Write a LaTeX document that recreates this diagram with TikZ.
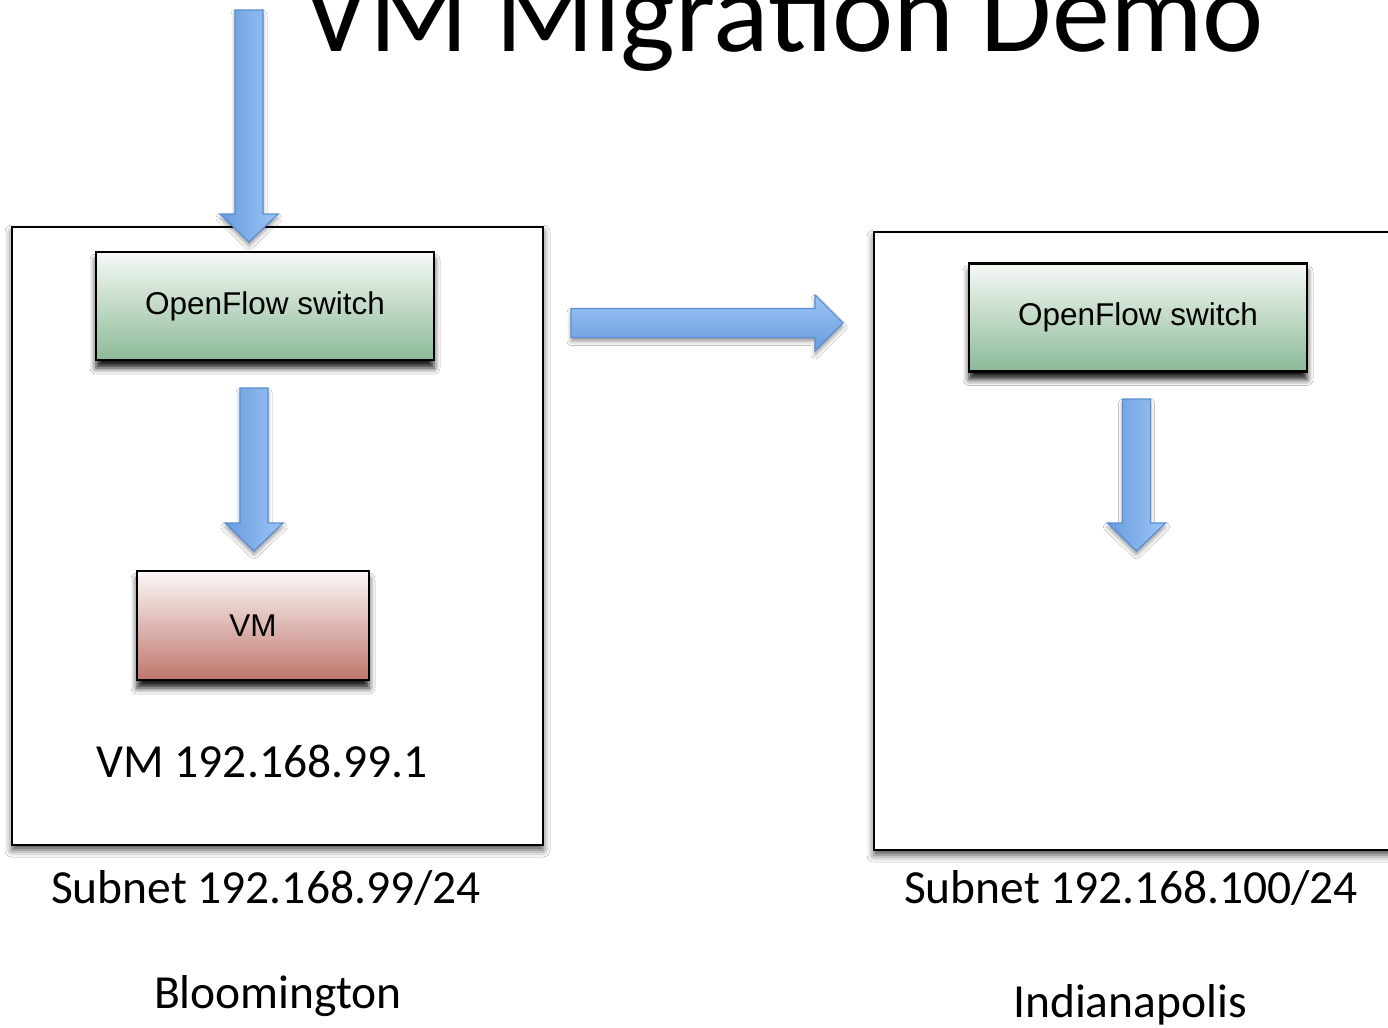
\documentclass[tikz,border=0pt]{standalone}
\usepackage{fontspec}
\setmainfont{Carlito}
\newfontfamily\helv{Liberation Sans}
\usetikzlibrary{shadows.blur}
\definecolor{gtop}{HTML}{F6F9F6}
\definecolor{gbot}{HTML}{8CBA97}
\definecolor{rtop}{HTML}{FCF8F8}
\definecolor{rbot}{HTML}{BF766C}
\definecolor{aleft}{HTML}{679CDE}
\definecolor{aright}{HTML}{9DC5F4}
\definecolor{aedge}{HTML}{5B8DD2}
\newcommand\vdarrow[3]{% center x, top y, tip y
  \path[blockarrow, left color=aleft, right color=aright]
    (#1-14,#2) -- (#1+14,#2) -- (#1+14,#3-28) -- (#1+29,#3-28) -- (#1,#3)
    -- (#1-29,#3-28) -- (#1-14,#3-28) -- cycle;}
\begin{document}
\begin{tikzpicture}[x=1pt,y=-1pt,
  bigbox/.style={draw=black, line width=2pt, fill=white, inner sep=0pt,
    blur shadow={shadow xshift=0pt, shadow yshift=-5pt, shadow blur radius=7pt, shadow opacity=70}},
  swbox/.style={draw=black, line width=2.4pt, top color=gtop, bottom color=gbot,
    minimum width=338pt, minimum height=108pt, inner sep=0pt,
    font=\helv\fontsize{31.5}{36}\selectfont,
    blur shadow={shadow xshift=0pt, shadow yshift=-8pt, shadow blur radius=6pt, shadow opacity=90}},
  vmbox/.style={swbox, top color=rtop, bottom color=rbot, minimum width=232pt, minimum height=109pt},
  lbl/.style={anchor=base, font=\fontsize{47.5}{52}\selectfont},
  blockarrow/.style={draw=aedge, line width=1.2pt, line join=miter,
    blur shadow={shadow xshift=0pt, shadow yshift=-4pt, shadow blur radius=4pt, shadow opacity=40}}]
\useasboundingbox (0,0) rectangle (1388,1027);
\clip (0,0) rectangle (1388,1027);
\fill[white] (0,0) rectangle (1388,1027);

% big site boxes
\node[bigbox, minimum width=531pt, minimum height=618pt] (left) at (277.5,536) {};
\node[bigbox, minimum width=530pt, minimum height=618pt] (right) at (1139,541) {};

% title
\node[anchor=base, font=\fontsize{116}{120}\selectfont, inner sep=0pt] (title) at (784,52) {VM Migration Demo};

% switches and VM
\node[swbox] (sw1) at (265,306) {OpenFlow switch};
\node[swbox] (sw2) at (1138,317.5) {OpenFlow switch};
\node[vmbox] (vm) at (253,625.5) {VM};

% labels
\node[lbl] (vmip) at (262,777) {VM 192.168.99.1};
\node[lbl] (sub1) at (266,903) {Subnet 192.168.99/24};
\node[lbl] (sub2) at (1131,903) {Subnet 192.168.100/24};
\node[lbl] (city1) at (278,1008) {Bloomington};
\node[lbl] (city2) at (1130,1017) {Indianapolis};

% block arrows
\vdarrow{249}{10}{242}
\vdarrow{254}{388}{551}
\vdarrow{1136.5}{399}{551}
\path[blockarrow, top color=aright, bottom color=aleft]
  (571,308.5) -- (815,308.5) -- (815,295) -- (843,323) -- (815,351)
  -- (815,337.5) -- (571,337.5) -- cycle;
\end{tikzpicture}
\end{document}
